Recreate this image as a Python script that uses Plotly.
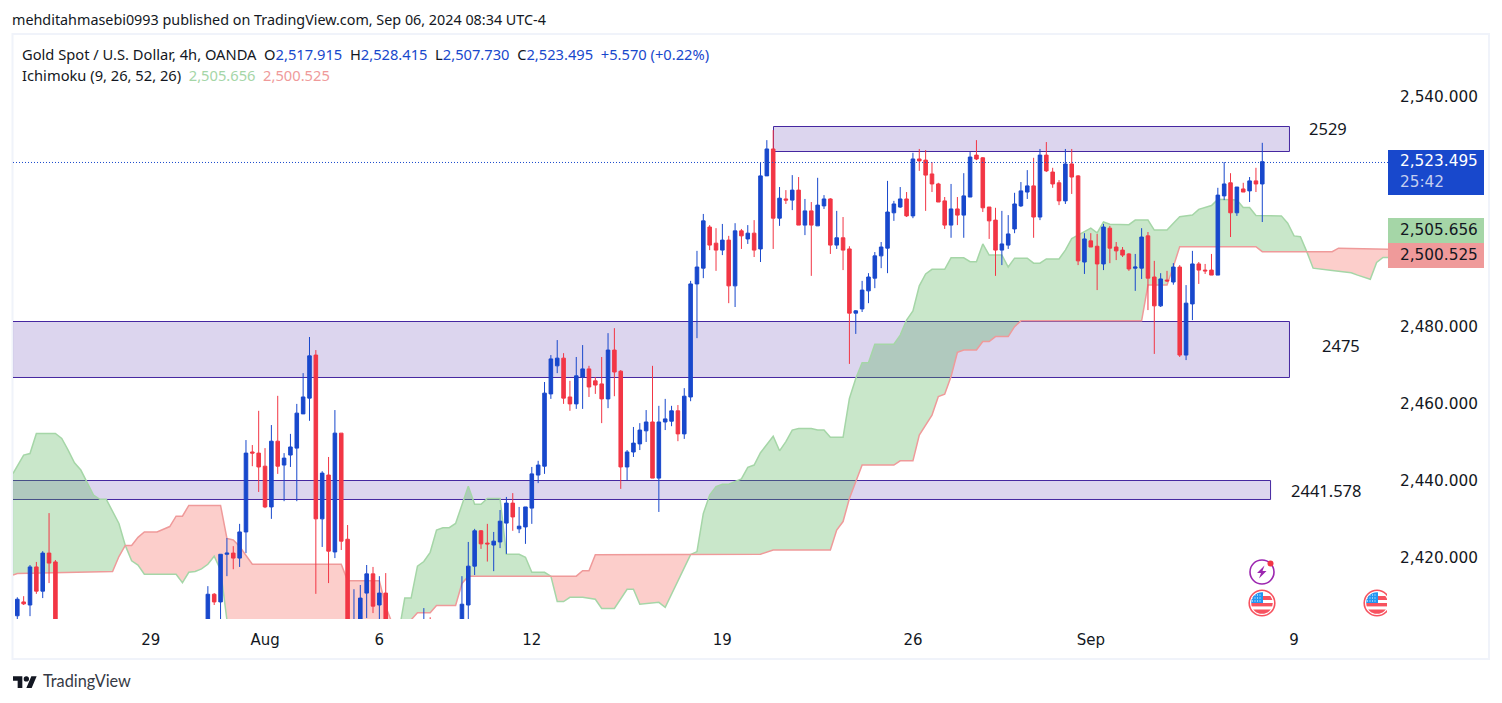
import base64
import plotly.graph_objects as go

# ---------- candles (4h bars, position number on the time axis) ----------
bar_index = [0,1,2,3,4,5,6,
 30,31,32,33,34,35,36,37,38,39,40,41,42,43,44,45,46,47,48,49,50,51,52,53,54,55,56,57,58,
 64,65,
 70,71,72,73,74,75,76,77,78,79,80,81,82,83,84,85,86,87,88,89,90,91,92,93,94,95,96,97,98,99,
 100,101,102,103,104,105,106,107,108,109,110,111,112,113,114,115,116,117,118,119,120,121,122,123,124,125,126,127,128,129,
 130,131,132,133,134,135,136,137,138,139,140,141,142,143,144,145,146,147,148,149,150,151,152,153,154,155,156,157,158,159,
 160,161,162,163,164,165,166,167,168,169,170,171,172,173,174,175,176,177,178,179,180,181,182,183,184,185,186,187,188,189,
 190,191,192,193,194,195,196]
opens = [2404.9,2408.5,2407.7,2417.6,2411.3,2421.2,2418.9,
 2400,2410.5,2408.5,2420.9,2421.2,2419.9,2426.7,2447.5,2447.2,2443.8,2433.2,2450.3,2444.1,2446.7,2448.5,2457.4,2461.5,2472.7,2430.1,2441.5,2421.5,2452.4,2424.8,2395,2400,2410.8,2415.8,2407.7,2410.8,
 2398,2402,
 2402,2407.7,2417.8,2427,2423.8,2423.3,2424.1,2429,2434.2,2427.5,2428,2432.9,2441.5,2443.8,2462.6,2469.9,2471.9,2461.8,2460,2467,2469.1,2466,2465.2,2461.3,2474,2468.5,2443.6,2447.5,2449.6,2453,
 2455.3,2440.7,2455.3,2455.5,2458.2,2452.2,2461.8,2491.2,2495.3,2506,2501.8,2500,2502.6,2490.7,2505,2502.9,2504.4,2500.3,2519.3,2526.3,2508.3,2513.3,2513,2515.6,2506.5,2510.2,2506.3,2511.5,2513.3,2501.3,
 2503.2,2500.3,2483.6,2484.7,2489.4,2492.7,2498.5,2500.5,2509.7,2511.2,2513.3,2508.9,2523.7,2523.4,2519.8,2517.2,2512.8,2506.5,2510.7,2509.1,2513.8,2524.7,2524,2511.2,2507.8,2500,2501.3,2505.5,2511.5,2515.1,
 2516.7,2508.6,2524.7,2520.3,2517.5,2512.8,2522.4,2519.3,2496.9,2502.4,2501,2496.4,2505.7,2500.8,2500,2499,2495.3,2495.3,2503.7,2493,2485.5,2492.2,2491.7,2495.6,2472.7,2486,2496.4,2494.8,2494.8,2493.5,
 2514.1,2517.5,2509.7,2515.9,2515.4,2518,2517.2]
highs = [2409.7,2410,2418.1,2418.9,2421.7,2431.6,2419.4,
 2412.6,2410.8,2420.9,2425.1,2423,2428.8,2450.6,2449.3,2458.2,2448.5,2454.5,2462.1,2447.2,2452.2,2460,2468,2477.4,2474,2442.5,2446.2,2458.4,2452.4,2428.5,2411.8,2412.9,2418.1,2417.6,2415.2,2416,
 2406.9,2404.5,
 2415.2,2424.1,2427.5,2427.2,2428.8,2426.7,2432.4,2435.8,2436.8,2433.2,2433.2,2443.6,2445.2,2465.7,2472.7,2476.6,2473.2,2466,2472.2,2475.3,2469.9,2467,2472.2,2478.4,2479.7,2468.8,2448,2454,2455,2458.4,
 2469.9,2459.5,2461.3,2459.5,2459.7,2464.1,2492,2499.8,2509.4,2506.5,2505.7,2506.8,2503.7,2507,2505.5,2506.5,2507.8,2522.7,2528.6,2531.2,2516.4,2515.6,2519.5,2519,2513.3,2512.5,2518.8,2514.3,2513.5,2510.2,
 2508.6,2501,2484.4,2492,2494,2499.5,2502.1,2518,2512.8,2516.4,2515.1,2525.3,2526.3,2526,2522.9,2517.5,2513.8,2517.2,2513.8,2520,2525.5,2528.6,2524.2,2511.2,2511,2510.2,2509.1,2514.9,2517.7,2520.8,
 2524,2526.3,2528.1,2521.4,2518.2,2526.3,2526.3,2519.5,2504.4,2504.4,2504.2,2506.8,2506.3,2502.1,2500.8,2499.2,2499,2505.7,2504.7,2497.2,2494,2494.6,2496.6,2496.1,2490.9,2499.8,2496.9,2496.4,2499,2516.2,
 2522.9,2520,2516.4,2517.5,2519,2521.4,2527.9]
lows = [2403,2407.7,2404.8,2410.6,2409.5,2413.4,2398,
 2398,2407.7,2403,2415.2,2417,2417.6,2421.2,2443.8,2437.1,2432.9,2430.1,2441.8,2434.7,2443.6,2434.7,2457.4,2455.6,2410.6,2422.8,2413.4,2419.9,2422,2399,2393,2398,2404.3,2405.6,2403,2400,
 2396,2396,
 2400,2403,2415.5,2422.3,2419,2416.5,2422.5,2421,2427,2426.4,2423.6,2428.8,2439.4,2441.8,2461.3,2468,2460,2458.2,2458.7,2458.7,2461.8,2462.6,2455,2458.9,2462,2437.9,2440.2,2446.2,2448,2450.1,
 2440.7,2431.9,2453.2,2454.2,2450.3,2450.9,2460.7,2477.1,2492.7,2500,2494.6,2498.7,2486.2,2485.2,2500.3,2501.6,2498.2,2496.9,2519.3,2500.3,2506.3,2512,2510.4,2506.5,2503.9,2493.3,2506.3,2510.7,2499,2500.3,
 2494.8,2470.4,2478.2,2483.9,2486.2,2490.1,2495.3,2494,2507.6,2511,2508.6,2508.3,2520.6,2510.2,2515.1,2512.5,2505.5,2503.2,2506.5,2503.2,2513.8,2523.4,2509.9,2502.9,2493.3,2496.1,2500.3,2504.4,2511.2,2513.3,
 2503.2,2507.8,2520.3,2516.2,2511.7,2512,2514.6,2496.1,2493.8,2500.8,2489.6,2494.8,2496.6,2497.4,2498.2,2494.6,2489.4,2492.5,2484.4,2473,2485.2,2491.7,2491,2472.2,2471.4,2481.8,2491.2,2493.8,2493.5,2493.5,
 2513,2503.4,2508.9,2515.1,2512.5,2515.1,2507.3]
closes = [2409.2,2408,2417.6,2411.3,2421.2,2418.6,2400,
 2410.5,2408.5,2420.9,2421.2,2419.9,2426.7,2447.2,2447.2,2443.6,2433.2,2450.3,2443.8,2445.9,2448.8,2457.6,2461.8,2472.5,2430.1,2442,2421.7,2452.4,2424.3,2401,2403,2409.5,2415.8,2407.4,2410.8,2402,
 2402,2398,
 2407.9,2417.8,2427,2423.6,2423.6,2424.3,2429.5,2434.2,2430.6,2428.2,2433.2,2441.8,2444.1,2462.8,2471.7,2471.9,2461.5,2460,2467.3,2469.1,2464.4,2464.9,2461.3,2474,2468.3,2443.6,2447.5,2449.8,2453.2,2455.3,
 2440.7,2455.3,2456.1,2458.2,2452.2,2462,2491.2,2495.6,2507.6,2501.3,2500,2502.6,2490.7,2505,2503.7,2504.4,2500,2519.3,2526.3,2508.3,2513.5,2513,2515.6,2506.5,2510.2,2506.5,2511.7,2513.3,2501.3,2503.2,
 2500,2483.6,2484.2,2489.6,2493,2498.5,2500.8,2509.9,2512,2513.3,2508.9,2523.7,2523.2,2519.5,2517.2,2512.5,2506.5,2510.7,2509.1,2514.1,2524.2,2523.7,2511,2507.6,2500,2501.6,2504.2,2512,2515.4,2516.7,
 2508.6,2524.7,2520.6,2517.2,2512.8,2522.4,2519,2497.2,2502.9,2500.8,2496.4,2506,2500.5,2499.8,2498.7,2495.1,2495.6,2503.4,2492.7,2485.5,2492.5,2492,2495.6,2472.7,2486.2,2496.4,2494.8,2494.6,2493.5,2514.3,
 2517.2,2509.7,2516.4,2515.1,2518,2517.2,2523]

# ---------- Ichimoku spans ----------
span_a_index = [-0.68,1,2,3,6,7,8,9,10,12,13,14,16,17,18,19,20,25,26,27,28,29,30,31,32,33,34,45,59,60,61,62,63,64,65,66,67,68,69,71,72,73,74,76,77,79,80,81,83,84,85,86,87,89,91,92,94,96,97,98,101,102,106,107,108,109,110,111,112,114,115,116,117,118,119,120,121,122,123,125,126,127,128,130,131,132,133,134,135,138,139,140,141,142,143,144,146,147,149,150,151,152,153,155,156,157,159,160,161,162,164,165,166,167,168,169,170,171,172,175,176,178,179,181,182,183,185,186,188,189,192,193,194,195,199,200,201,202,203,204,207,210,211,213,214,215,215.8]
span_a = [2441.9,2446.7,2447.1,2452.3,2452.3,2451,2448,2444.7,2442.8,2436.3,2435.2,2435.2,2428.9,2423.2,2419.2,2418.1,2415.7,2415.7,2413.5,2416.2,2416.4,2417.1,2418.3,2420.4,2416.8,2403.8,2398,2392,2397,2400,2409.5,2409.5,2417.8,2419,2421.4,2427.2,2427.8,2427.8,2428.9,2438.6,2433.9,2433.9,2435.4,2435.4,2420.9,2420.9,2420.1,2416.2,2416.2,2415.2,2408.6,2408.6,2409.7,2409.7,2409.2,2406.8,2406.8,2411.8,2411.8,2407.9,2408.4,2407.1,2420.8,2421.6,2431.5,2436.3,2438.5,2439.1,2439.1,2440.5,2443.5,2444.1,2447.3,2449.3,2451.6,2447.8,2450.2,2453.2,2453.6,2453.6,2453.2,2453.2,2451.3,2451.3,2461.4,2466.6,2470.7,2470.7,2475.5,2475.5,2477.9,2481.8,2484.2,2490.7,2493.8,2495,2495,2498,2498,2497,2497,2501.6,2498.7,2498.7,2495.6,2497.9,2497.9,2496.6,2496.6,2497.7,2497.7,2500,2503,2503.9,2504.8,2505.7,2504.5,2507.3,2506.7,2506.6,2507.8,2507.8,2505.2,2505.2,2507,2508.7,2509.1,2510.6,2511.6,2513.2,2513,2511.1,2511.1,2509,2508.9,2507,2503.7,2503.5,2499.6,2495.3,2494.7,2494.1,2493.5,2492.4,2496.8,2498.1,2498.1]
span_b_index = [-0.68,0,15,16,17,18,19,20,22,23,24,25,26,27,32,33,34,35,36,37,51,52,57,58,59,60,61,62,63,65,66,69,70,71,84,88,89,90,91,106,117,119,128,129,130,131,132,133,138,139,141,142,144,145,146,147,148,149,151,152,153,154,156,157,158,177,178,181,182,183,195,196,203,207,208,215.8]
span_b = [2415.5,2415.9,2416.4,2420.3,2423.2,2423.2,2425.3,2426.7,2426.7,2427.4,2428.1,2430.8,2430.8,2433.6,2433.6,2425,2424.6,2422.9,2420.7,2418.3,2418.3,2414,2414,2407.3,2403,2400,2402,2404,2405.7,2405.7,2407.6,2407.6,2413.3,2415.2,2415.2,2415.2,2416.6,2416.6,2420.8,2420.8,2420.9,2422,2422,2427.2,2429.4,2435.4,2439.8,2444.1,2444.1,2445.2,2445.2,2451.9,2457.1,2461.9,2462.5,2467.1,2473.4,2474,2474,2476.2,2476.2,2477.5,2477.5,2480.1,2481.6,2481.6,2490.9,2490.9,2495.7,2500.9,2500.9,2499.6,2499.6,2499.6,2500.5,2500.2]
# (first index, last index, colour) of each stretch of the cloud, crossings included in both spans
cloud_green = "rgba(76,175,80,0.3)"
cloud_red = "rgba(244,67,54,0.26)"
cloud_sections = [(-0.68,17,cloud_green),(17,60,cloud_red),(60,84,cloud_green),(84,106,cloud_red),(106,203,cloud_green),(203,215.8,cloud_red)]

# ---------- drawn zones and labels ----------
zone_names = ["2529","2475","2441.578"]
zone_low = [2525.64,2466.87,2435.14]
zone_high = [2532.14,2481.43,2440.08]
zone_start = [119.05,-5,-5]
zone_end = [200.28,200.28,197.3]
last_price = 2522.79

price_ticks = [2420,2440,2460,2480,2540]
time_tick_index = [21,39,57,81,111,141,169,201]
time_tick_text = ["29","Aug","6","12","19","26","Sep","9"]

INK = "#131722"
BLUE = "#1848CC"
RED = "#F23645"
FONT = "DejaVu Sans"
HEAD = "Noto Sans"
X_RANGE = [-0.677, 215.79]
Y_RANGE = [2404.06, 2555.94]

PLOT_L, PLOT_R, PLOT_T, PLOT_B = 13, 1388, 35, 619
def px(x): return (x - PLOT_L) / (PLOT_R - PLOT_L)
def py(y): return 1 - (y - PLOT_T) / (PLOT_B - PLOT_T)

fig = go.Figure()

for start, end, colour in cloud_sections:
    bx = [x for x in span_b_index if start <= x <= end]
    by = [v for x, v in zip(span_b_index, span_b) if start <= x <= end]
    ax = [x for x in span_a_index if start <= x <= end]
    ay = [v for x, v in zip(span_a_index, span_a) if start <= x <= end]
    fig.add_trace(go.Scatter(x=bx, y=by, mode="lines", line=dict(width=0), hoverinfo="skip", showlegend=False))
    fig.add_trace(go.Scatter(x=ax, y=ay, mode="lines", line=dict(width=0), fill="tonexty", fillcolor=colour, hoverinfo="skip", showlegend=False))

fig.add_trace(go.Scatter(x=span_a_index, y=span_a, mode="lines", line=dict(color="#A5D6A7", width=1.5), showlegend=False, name="Leading span A"))
fig.add_trace(go.Scatter(x=span_b_index, y=span_b, mode="lines", line=dict(color="#EF9A9A", width=1.5), showlegend=False, name="Leading span B"))

# candles sit on an overlaying axis pair so they are painted above the cloud
fig.add_trace(go.Candlestick(
    x=bar_index, open=opens, high=highs, low=lows, close=closes, whiskerwidth=0, showlegend=False,
    xaxis="x2", yaxis="y2",
    increasing=dict(line=dict(color=BLUE, width=1), fillcolor=BLUE),
    decreasing=dict(line=dict(color=RED, width=1), fillcolor=RED)))

shapes = [dict(type="rect", xref="paper", yref="paper", x0=px(12.5), x1=px(1489), y0=py(659), y1=py(34),
               line=dict(color="#F0F3FA", width=2), layer="below")]
for lo, hi, s, e in zip(zone_low, zone_high, zone_start, zone_end):
    shapes.append(dict(type="rect", xref="x", yref="y", x0=s, x1=e, y0=lo, y1=hi,
                       fillcolor="rgba(81,45,168,0.2)", line=dict(color="#4527A0", width=1), layer="below"))
shapes.append(dict(type="line", xref="paper", yref="y", x0=0, x1=1, y0=last_price, y1=last_price,
                   line=dict(color=BLUE, width=1, dash="1px,2px")))
shapes += [
    dict(type="rect", xref="paper", yref="paper", x0=px(1388), x1=px(1484), y0=py(195), y1=py(150), fillcolor=BLUE, line=dict(width=0)),
    dict(type="rect", xref="paper", yref="paper", x0=px(1388), x1=px(1484), y0=py(243), y1=py(218), fillcolor="#A5D6A7", line=dict(width=0)),
    dict(type="rect", xref="paper", yref="paper", x0=px(1388), x1=px(1484), y0=py(268), y1=py(243), fillcolor="#EF9A9A", line=dict(width=0)),
]

def note(x, y, text, size=14, color=INK, anchor="left", font=FONT):
    return dict(xref="paper", yref="paper", x=px(x), y=py(y), text=text, showarrow=False, xanchor=anchor,
                yanchor="middle", font=dict(family=font, size=size, color=color), borderpad=0, borderwidth=0)

def blue(t): return f'<span style="color:{BLUE}">{t}</span>'
annotations = [
    note(12, 19.5, "mehditahmasebi0993 published on TradingView.com, Sep 06, 2024 08:34 UTC-4", size=14.35, font=HEAD),
    note(22, 54, "Gold Spot / U.S. Dollar, 4h, OANDA&#160;&#160;O" + blue("2,517.915") + "&#160;&#160;H" + blue("2,528.415")
         + "&#160;&#160;L" + blue("2,507.730") + "&#160;&#160;C" + blue("2,523.495") + "&#160;&#160;" + blue("+5.570 (+0.22%)"), size=14.7, font=HEAD),
    note(22, 75, 'Ichimoku (9, 26, 52, 26)&#160;&#160;<span style="color:#A5D6A7">2,505.656</span>&#160;&#160;<span style="color:#EF9A9A">2,500.525</span>', size=14.7, font=HEAD),
    note(1328, 128.5, zone_names[0], size=16.5, anchor="center", font=HEAD),
    note(1341, 345.5, zone_names[1], size=16.5, anchor="center", font=HEAD),
    note(1326, 490.5, zone_names[2], size=16.5, anchor="center", font=HEAD),
    note(1399.5, 161, "2,523.495", size=15.3, color="#FFFFFF"),
    note(1399.5, 182, "25:42", size=15.3, color="#C5CFF0"),
    note(1399.5, 230, "2,505.656", size=15.3),
    note(1399.5, 255, "2,500.525", size=15.3),
    note(42.5, 680.5, "TradingView", size=16.3, color="#363A45", font="Lato"),
]

def uri(svg):
    return "data:image/svg+xml;base64," + base64.b64encode(svg.encode()).decode()

flag = ('<svg xmlns="http://www.w3.org/2000/svg" viewBox="0 0 28 28"><defs><clipPath id="c"><circle cx="14" cy="14" r="10.8"/></clipPath></defs>'
        '<circle cx="14" cy="14" r="12.8" fill="#fff" stroke="#F7525F" stroke-width="1.6"/>'
        '<g clip-path="url(#c)"><rect width="28" height="28" fill="#fff"/><rect x="3" y="7" width="22" height="4" fill="#F7525F"/>'
        '<rect x="3" y="14" width="22" height="3.4" fill="#F7525F"/><rect x="3" y="20.5" width="22" height="5" fill="#F7525F"/>'
        '<rect x="3" y="3" width="12" height="11" fill="#2196F3"/>'
        '<path d="M4 6h10M4 9h10M4 12h10" stroke="#fff" stroke-width="1" stroke-dasharray="1 1.5"/></g></svg>')
flag_cut = flag.replace('viewBox="0 0 28 28"', 'viewBox="0 0 24 28"')
bolt = ('<svg xmlns="http://www.w3.org/2000/svg" viewBox="0 0 28 28"><circle cx="14" cy="15" r="12" fill="#fff" stroke="#9C27B0" stroke-width="1.6"/>'
        '<path d="M16.5 8.5 9 16h4l-2 5.5L18.5 14h-4z" fill="#9C27B0"/><circle cx="22.5" cy="6.5" r="3" fill="#F23645"/></svg>')
logo = ('<svg xmlns="http://www.w3.org/2000/svg" viewBox="0 0 36 20"><path d="M14 20H7V9H0V2h14zM28 20h-8l7.5-18h8z" fill="#131722"/><circle cx="20" cy="6" r="4" fill="#131722"/></svg>')

def image(svg, x0, y0, x1, y1):
    return dict(source=uri(svg), xref="paper", yref="paper", x=px(x0), y=py(y0), sizex=px(x1) - px(x0), sizey=py(y0) - py(y1),
                xanchor="left", yanchor="top", sizing="stretch", layer="above")

images = [
    image(bolt, 1248, 557, 1276, 585),
    image(flag, 1248, 589, 1276, 617),
    image(flag_cut, 1363, 589, 1387, 617),
    image(logo, 13, 675, 37, 688),
]

fig.update_layout(
    width=1502, height=703, autosize=False,
    margin=dict(l=PLOT_L, r=1502 - PLOT_R, t=PLOT_T, b=703 - PLOT_B),
    paper_bgcolor="#FFFFFF", plot_bgcolor="#FFFFFF",
    showlegend=False, boxgap=0.2, dragmode=False,
    shapes=shapes, annotations=annotations, images=images,
    xaxis=dict(range=X_RANGE, type="linear", showgrid=False, zeroline=False, showline=False,
               tickmode="array", tickvals=time_tick_index, ticktext=time_tick_text, ticks="outside", ticklen=7, tickcolor="#FFFFFF",
               tickfont=dict(family=FONT, size=15, color=INK)),
    yaxis=dict(range=Y_RANGE, side="right", showgrid=False, zeroline=False, showline=False,
               tickmode="array", tickvals=price_ticks, ticktext=[f"{v:,.3f}" for v in price_ticks], ticks="outside", ticklen=8, tickcolor="#FFFFFF",
               tickfont=dict(family=FONT, size=15.3, color=INK)),
    xaxis2=dict(range=X_RANGE, type="linear", overlaying="x", visible=False, rangeslider=dict(visible=False)),
    yaxis2=dict(range=Y_RANGE, overlaying="y", side="right", visible=False),
)

fig.write_html("out.html", config={"displayModeBar": False},
               post_script="document.body.style.margin='0';document.body.style.overflow='hidden';")
